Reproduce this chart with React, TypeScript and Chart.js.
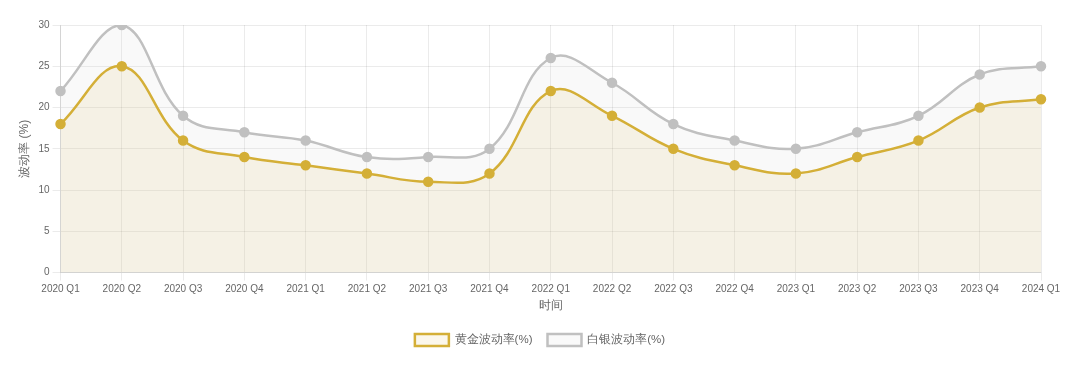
import React, { useEffect, useRef } from "react";
import { Chart, registerables } from "chart.js";
Chart.register(...registerables);

const labels = ["2020 Q1","2020 Q2","2020 Q3","2020 Q4","2021 Q1","2021 Q2","2021 Q3","2021 Q4","2022 Q1","2022 Q2","2022 Q3","2022 Q4","2023 Q1","2023 Q2","2023 Q3","2023 Q4","2024 Q1"];
const goldVol = [18,25,16,14,13,12,11,12,22,19,15,13,12,14,16,20,21];
const silverVol = [22,30,19,17,16,14,14,15,26,23,18,16,15,17,19,24,25];

export default function App() {
  const ref = useRef<HTMLCanvasElement>(null);
  useEffect(() => {
    const font = "'Liberation Sans', Arial, sans-serif";
    const chart = new Chart(ref.current!, {
      type: "line",
      data: {
        labels,
        datasets: [
          { label: "黄金波动率(%)", data: goldVol, borderColor: "#D4AF37", backgroundColor: "rgba(212,175,55,0.1)", fill: "origin", tension: 0.4, borderWidth: 2.5, pointRadius: 4, pointBackgroundColor: "#D4AF37", pointBorderColor: "#D4AF37" },
          { label: "白银波动率(%)", data: silverVol, borderColor: "#C0C0C0", backgroundColor: "rgba(192,192,192,0.1)", fill: "origin", tension: 0.4, borderWidth: 2.5, pointRadius: 4, pointBackgroundColor: "#C0C0C0", pointBorderColor: "#C0C0C0" },
        ],
      },
      options: {
        animation: false,
        responsive: true,
        maintainAspectRatio: false,
        layout: { padding: { top: 17, left: 5, right: 5, bottom: 7 } },
        plugins: {
          legend: { position: "bottom", labels: { font: { family: font, size: 11.5 }, color: "#666", boxWidth: 34, boxHeight: 12, padding: 15 } },
          tooltip: { enabled: false },
        },
        scales: {
          x: { title: { display: true, text: "时间", font: { family: font, size: 12 }, color: "#666", padding: { top: 0, bottom: 6 } }, ticks: { font: { family: font, size: 10 }, color: "#666", maxRotation: 0 }, grid: { color: "rgba(0,0,0,0.08)" } },
          y: { beginAtZero: true, max: 30, title: { display: true, text: "波动率 (%)", font: { family: font, size: 12 }, color: "#666" }, ticks: { stepSize: 5, font: { family: font, size: 10 }, color: "#666" }, grid: { color: "rgba(0,0,0,0.08)" } },
          spacer: {
            type: "linear", position: "right", display: true,
            grid: { display: false, drawTicks: false }, border: { display: false },
            ticks: { display: false },
            afterFit: (s: any) => { s.width = 26; },
          } as any,
        },
      },
    });
    return () => chart.destroy();
  }, []);
  return <div style={{ height: 355 }}><canvas ref={ref} /></div>;
}
